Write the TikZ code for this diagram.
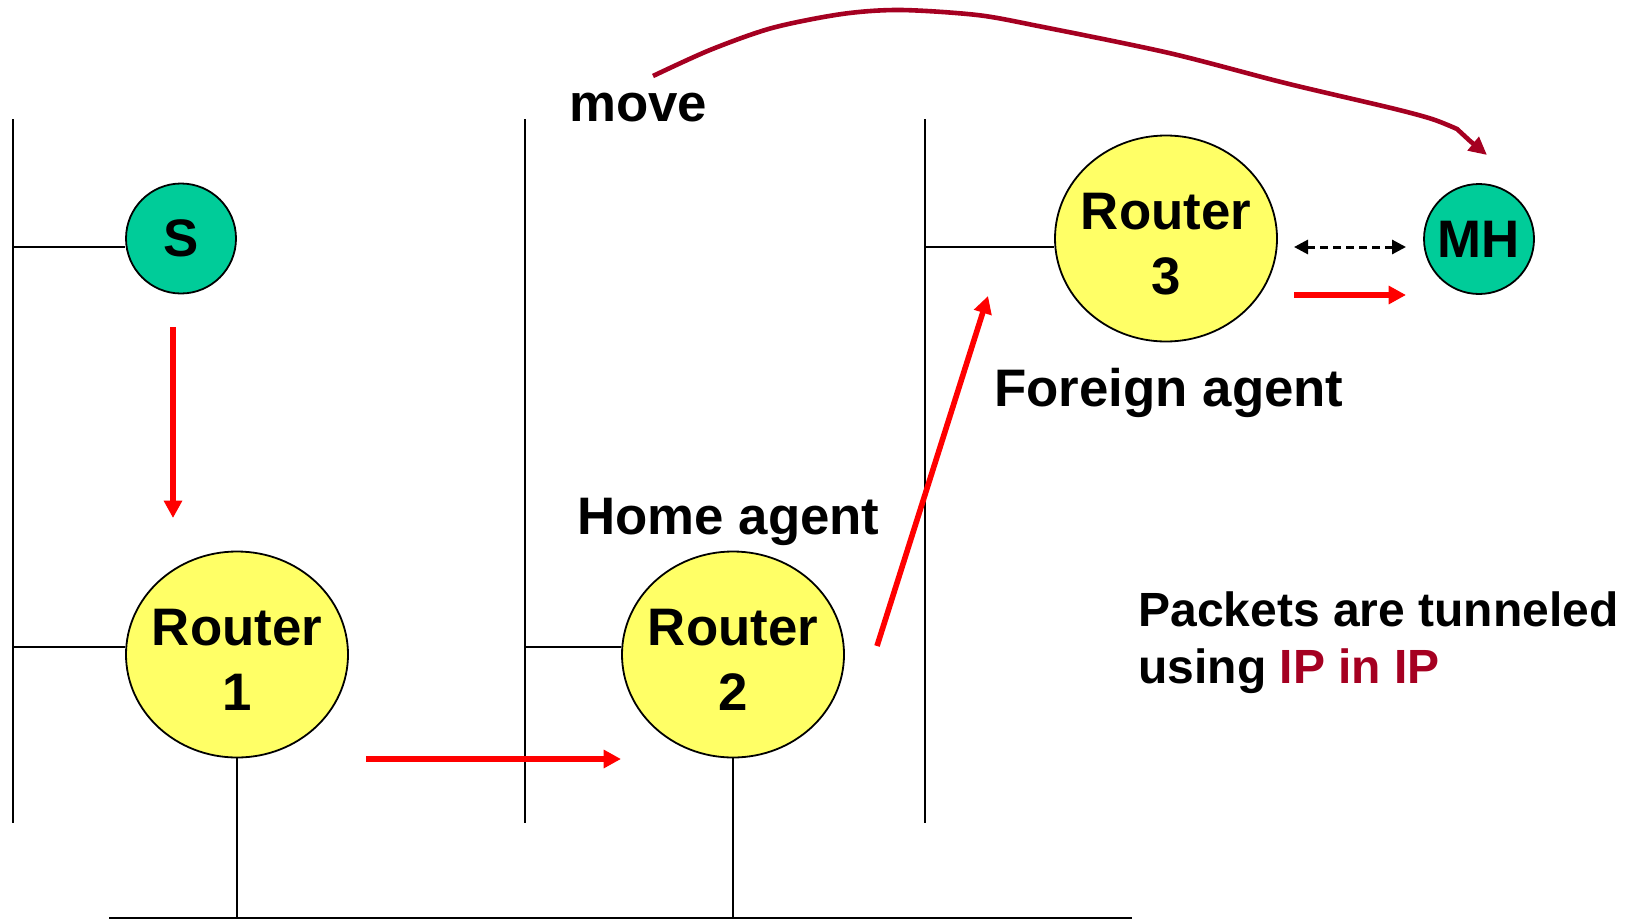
\documentclass[tikz,border=0pt]{standalone}
\usepackage{fontspec}
\setmainfont{Liberation Sans}
\usetikzlibrary{shapes.geometric,arrows.meta}
\definecolor{routeryellow}{RGB}{255,255,102}
\definecolor{hostgreen}{RGB}{0,204,153}
\definecolor{movered}{RGB}{165,0,33}
\newcommand\rtrtop{\rule{0pt}{23.5pt}}
\tikzset{
  x=0.5pt, y=-0.5pt,
  wire/.style={line width=1pt, black},
  router/.style={ellipse, draw, line width=0.9pt, fill=routeryellow,
     minimum width=111pt, minimum height=103pt, inner sep=-6pt,
     align=center, font=\fontsize{26.4}{32.5}\selectfont\bfseries},
  host/.style={ellipse, draw, line width=0.9pt, fill=hostgreen,
     minimum width=55pt, minimum height=55pt, inner sep=-4pt,
     font=\fontsize{26.4}{32.5}\selectfont\bfseries},
  lbl/.style={inner sep=0pt, anchor=base west, font=\fontsize{26.4}{32.5}\selectfont\bfseries},
  pkt/.style={inner sep=0pt, anchor=north west, align=left, font=\fontsize{24}{28.5}\selectfont\bfseries},
  flow/.style={red, line width=2.8pt, -{Triangle[length=8.7pt,width=8.8pt]}},
  moveflow/.style={movered, line width=2.3pt, -{Triangle[length=9pt,width=8.5pt]}},
  beacon/.style={black, line width=1.5pt, dash pattern=on 4pt off 2.5pt,
     {Triangle[length=7pt,width=7pt]}-{Triangle[length=7pt,width=7pt]}},
}
\begin{document}
\begin{tikzpicture}
\useasboundingbox (0,0) rectangle (1636,920);

% network segments
\coordinate (v1t) at (13,119);  \coordinate (v1b) at (13,823);
\coordinate (v2t) at (525,119); \coordinate (v2b) at (525,823);
\coordinate (v3t) at (925,119); \coordinate (v3b) at (925,823);
\coordinate (busl) at (109,918); \coordinate (busr) at (1132,918);
\draw[wire] (v1t) -- (v1b);
\draw[wire] (v2t) -- (v2b);
\draw[wire] (v3t) -- (v3b);
\draw[wire, line width=1.2pt] (busl) -- (busr);

% nodes
\node[host] (S) at (181,238.5) {S};
\node[router] (R1) at (237,654.5) {\rtrtop Router\\1};
\node[router] (R2) at (733,654.5) {\rtrtop Router\\2};
\node[router] (R3) at (1166,238.5) {\rtrtop Router\\3};
\node[host] (MH) at (1479,239) {MH};

% attachments
\coordinate (aS) at (13,247);
\coordinate (a1) at (13,647);
\coordinate (a2) at (525,647);
\coordinate (a3) at (925,247);
\draw[wire] (aS) -- (aS -| S.west);
\draw[wire] (a1) -- (a1 -| R1.west);
\draw[wire] (a2) -- (a2 -| R2.west);
\draw[wire] (a3) -- (a3 -| R3.west);
\draw[wire] (R1.south) -- (R1.south |- busl);
\draw[wire] (R2.south) -- (R2.south |- busl);

% labels
\node[lbl] (move) at (569,121) {move};
\node[lbl] (home) at (577,534) {Home agent};
\node[lbl] (foreign) at (994,406) {Foreign agent};
\node[pkt] (packets) at (1138,591) {Packets are tunneled\\using \textcolor{movered}{IP in IP}};

% packet flow
\coordinate (f1a) at (173,327);  \coordinate (f1b) at (173,518);
\coordinate (f2a) at (366,759);  \coordinate (f2b) at (621,759);
\coordinate (f3a) at (877,646);  \coordinate (f3b) at (988,296);
\coordinate (f4a) at (1294,295); \coordinate (f4b) at (1406,295);
\coordinate (d1) at (1294,247);  \coordinate (d2) at (1406,247);
\draw[flow] (f1a) -- (f1b);
\draw[flow] (f2a) -- (f2b);
\draw[flow] (f3a) -- (f3b);
\draw[flow] (f4a) -- (f4b);
\draw[beacon] (d1) -- (d2);

% move of the mobile host
\coordinate (m0) at (653,76);
\coordinate (m1) at (1487,155);
\draw[moveflow] (m0) -- plot[smooth, tension=0.5] coordinates
  {(653,76) (710,50) (772,28) (842,14) (900,10) (977,15) (1038,26) (1169,53) (1285,83) (1391,108) (1432,119) (1457,129)}
  -- (1470,141) -- (m1);
\end{tikzpicture}
\end{document}
